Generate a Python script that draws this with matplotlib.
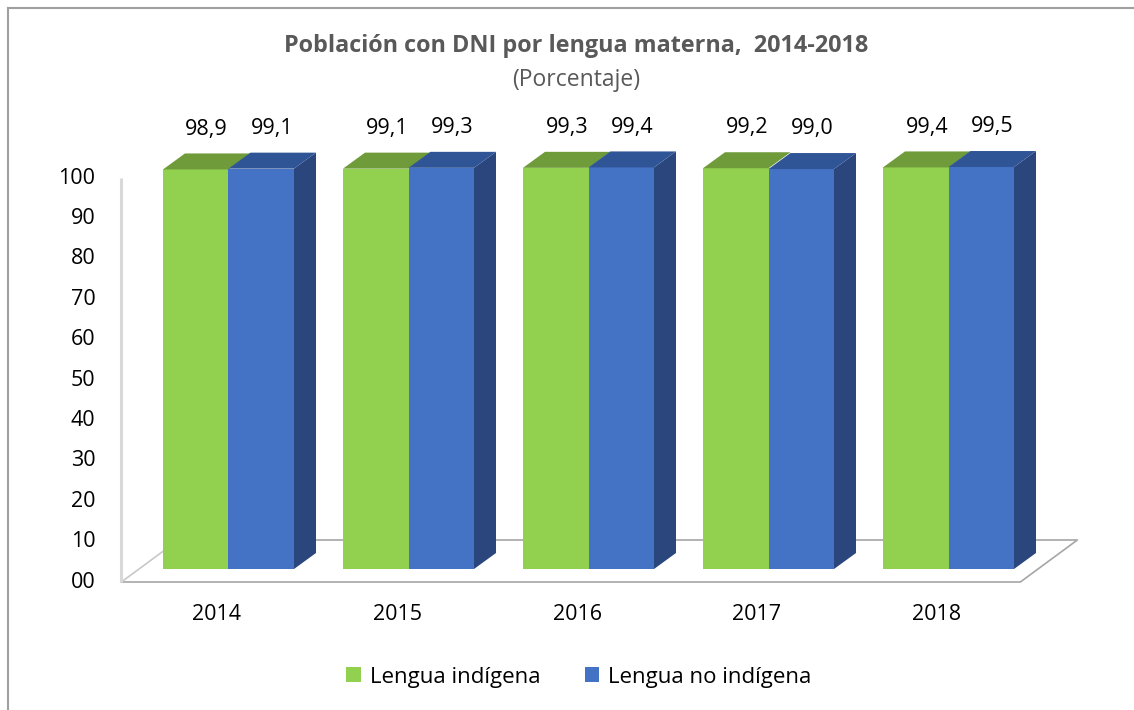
import matplotlib
matplotlib.use('Agg')
from matplotlib import pyplot as plt
from matplotlib.patches import Polygon, Patch
from matplotlib.lines import Line2D

plt.rcParams['font.family'] = ['Open Sans', 'DejaVu Sans']

years = ['2014', '2015', '2016', '2017', '2018']
indigena = [98.9, 99.1, 99.3, 99.2, 99.4]
no_indigena = [99.1, 99.3, 99.4, 99.0, 99.5]
labels_ind = ['98,9', '99,1', '99,3', '99,2', '99,4']
labels_noind = ['99,1', '99,3', '99,4', '99,0', '99,5']
yticks = [0, 10, 20, 30, 40, 50, 60, 70, 80, 90, 100]
ytick_labels = ['00', '10', '20', '30', '40', '50', '60', '70', '80', '90', '100']
series_names = ['Lengua indígena', 'Lengua no indígena']

green, green_top = '#92d050', '#6f9b3a'
blue, blue_top, blue_side = '#4472c4', '#2f5597', '#2a467c'

# pixel scale of the fake 3d view
px_cat = 180.0
px_unit = 4.04
x0_px, y0_px = 228.5, 569.0
W, H = 1134, 710

w = 65.5 / px_cat             # single bar width
ddx, ddy = 22 / px_cat, 16 / px_unit   # bar depth
Dx, Dy = 57 / px_cat, 42 / px_unit     # floor depth
front = 13 / 42.0              # bars start this far into the floor
margin = 24 / px_cat

fig = plt.figure(figsize=(W / 100, H / 100), dpi=100)
ax = fig.add_axes([0, 0, 1, 1])
ax.set_xlim(-x0_px / px_cat, (W - x0_px) / px_cat)
ax.set_ylim((y0_px - H) / px_unit, y0_px / px_unit)
ax.axis('off')

n = len(years)
# floor
fl = -w - margin - front * Dx
fr = (n - 1) + w + margin - front * Dx
fy = -front * Dy
ax.plot([fl, fr, fr + Dx, fl + Dx], [fy, fy, fy + Dy, fy + Dy], color='#a6a6a6', lw=1.2, zorder=1)
ax.plot([fl, fl + Dx], [fy, fy + Dy], color='#c8c8c8', lw=1.2, zorder=1)
# wall line
ax.plot([fl, fl], [fy, fy + 100], color='#d9d9d9', lw=2.2, zorder=1, solid_capstyle='butt')

for t, lab in zip(yticks, ytick_labels):
    ax.text(fl - 26 / px_cat, t + fy, lab, ha='right', va='center', fontsize=15.5, color='black')

for i in range(n):
    for j, (vals, labs, c, ct) in enumerate([(indigena, labels_ind, green, green_top),
                                             (no_indigena, labels_noind, blue, blue_top)]):
        v = vals[i]
        left = i - w + j * w
        right = left + w
        ax.bar(left, v, width=w, align='edge', color=c, linewidth=0, zorder=3 + j)
        ax.add_patch(Polygon([(left, v), (left + ddx, v + ddy), (right + ddx, v + ddy), (right, v)],
                             closed=True, facecolor=ct, edgecolor='none', zorder=3 + j))
        if j == 1:
            ax.add_patch(Polygon([(right, 0), (right + ddx, ddy), (right + ddx, v + ddy), (right, v)],
                                 closed=True, facecolor=blue_side, edgecolor='none', zorder=3))
        ax.text((left + right) / 2 + ddx / 2, v + ddy + 6.0, labs[i], ha='center', va='center',
                fontsize=15.5, color='black')
    ax.text(i - 11.5 / px_cat, (y0_px - 615) / px_unit, years[i], ha='center', va='center',
            fontsize=15.5, color='black')

fig.text(576 / W, 1 - 46 / H, 'Población con DNI por lengua materna,  2014-2018', ha='center', va='center',
         fontsize=16.8, fontweight='bold', color='#595959')
fig.text(576 / W, 1 - 80 / H, '(Porcentaje)', ha='center', va='center', fontsize=16.5, color='#595959')

handles = [Patch(facecolor=green, edgecolor='none'), Patch(facecolor=blue, edgecolor='none')]
fig.legend(handles, series_names, loc='center', bbox_to_anchor=(579 / W, 1 - 677 / H), ncol=2,
           frameon=False, fontsize=16, handlelength=0.65, handleheight=0.65, handletextpad=0.4,
           columnspacing=2.0)

# chart frame
fig.add_artist(Line2D([8 / W, 8 / W], [0, 1 - 8 / H], color='#a0a0a0', lw=1.5, transform=fig.transFigure))
fig.add_artist(Line2D([8 / W, 1], [1 - 8 / H, 1 - 8 / H], color='#a0a0a0', lw=1.5, transform=fig.transFigure))

fig.savefig('out.png', dpi=100)
plt.close(fig)
